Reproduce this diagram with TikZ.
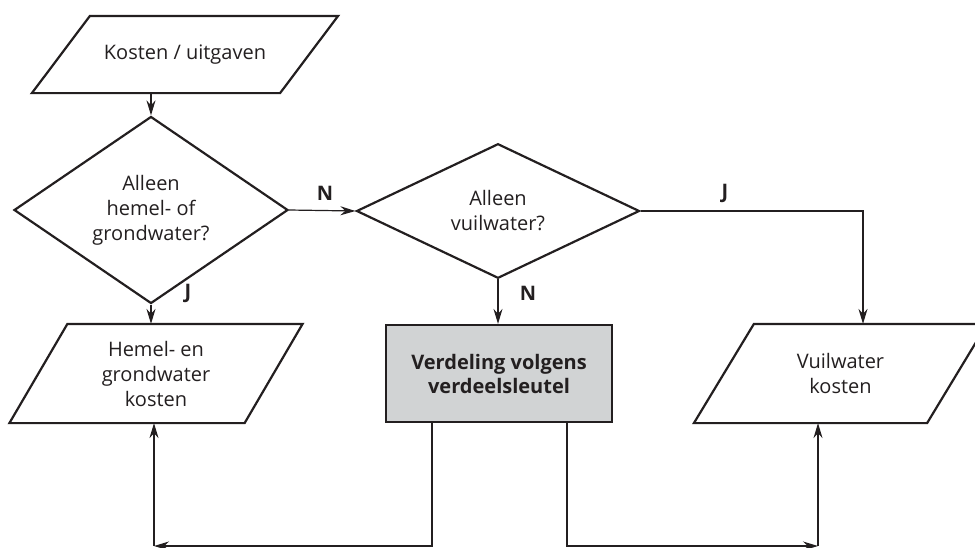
\documentclass[tikz,border=0pt]{standalone}
\usepackage{fontspec}
\setmainfont{Open Sans}
\usetikzlibrary{arrows.meta,shapes.geometric}
\definecolor{ink}{HTML}{231F20}
\definecolor{shade}{HTML}{D1D3D4}
\tikzset{
  flow/.style={-{Stealth[length=7.5pt,width=4.5pt]},line width=.6pt,draw=ink},
  box/.style={draw=ink,line width=1.1pt,line join=miter},
  io/.style={rectangle,align=center,inner sep=0pt,outer sep=.55pt,minimum height=48.5pt},
  ask/.style={diamond,draw=ink,line width=1.1pt,align=center,inner sep=0pt},
  proc/.style={rectangle,draw=ink,fill=shade,line width=1.1pt,align=center,font=\bfseries,minimum width=113pt,minimum height=48.5pt},
  tag/.style={font=\bfseries,text=ink,inner sep=0pt},
}

\begin{document}
\begin{tikzpicture}[x=.5pt,y=-.5pt,font=\fontsize{10}{12.5}\selectfont,text=ink]
  \path[use as bounding box] (0,0) rectangle (975,547);
  \node[io,minimum width=123pt,minimum height=37.5pt] (kost) at (185,54.5) {Kosten / uitgaven};
  \node[ask,minimum width=137pt,minimum height=65pt] (alh) at (151,210) {Alleen\\hemel- of\\grondwater?};
  \node[ask,minimum width=141.5pt,minimum height=64.5pt] (alv) at (498,211) {Alleen\\vuilwater?};
  \node[io,minimum width=116.5pt] (hemel) at (156,373.5) {Hemel- en\\grondwater\\kosten};
  \node[proc] (verd) at (499,373.5) {Verdeling volgens\\verdeelsleutel};
  \node[io,minimum width=115.5pt] (vuil) at (840.5,373.5) {Vuilwater\\kosten};
  % slanted outlines
  \draw[box] ([xshift=14.5pt]kost.north west) -- ([xshift=14.5pt]kost.north east) -- ([xshift=-14.5pt]kost.south east) -- ([xshift=-14.5pt]kost.south west) -- cycle;
  \draw[box] ([xshift=14.5pt]hemel.north west) -- ([xshift=14.5pt]hemel.north east) -- ([xshift=-14.5pt]hemel.south east) -- ([xshift=-14.5pt]hemel.south west) -- cycle;
  \draw[box] ([xshift=15pt]vuil.north west) -- ([xshift=15pt]vuil.north east) -- ([xshift=-15pt]vuil.south east) -- ([xshift=-15pt]vuil.south west) -- cycle;
  % labels
  \node[tag] (n1) at (325,193) {N};
  \node[tag] (j1) at (188,293) {J};
  \node[tag] (n2) at (528,293) {N};
  \node[tag] (j2) at (725,193) {J};
  % connectors
  \coordinate (cl) at (154,546);
  \coordinate (cr) at (818,546);
  \draw[flow] (kost.south -| alh.north) -- (alh.north);
  \draw[flow] (alh.east) -- (alv.west);
  \draw[flow] (alh.south) -- (alh.south |- hemel.north);
  \draw[flow] (alv.south) -- (alv.south |- verd.north);
  \draw[flow] (alv.east) -| ([xshift=11.25pt]vuil.north);
  \draw[flow] ([xshift=-33.5pt]verd.south) |- (cl);
  \draw[flow] (cl) -- (cl |- hemel.south);
  \draw[flow] ([xshift=34pt]verd.south) |- (cr);
  \draw[flow] (cr) -- (cr |- vuil.south);
\end{tikzpicture}
\end{document}
